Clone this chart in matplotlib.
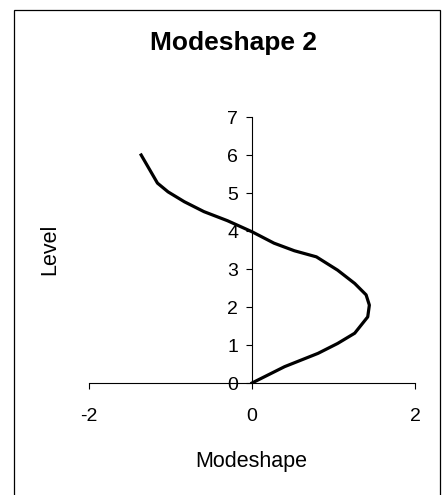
import matplotlib.pyplot as plt
from matplotlib.patches import Rectangle

# valores
modeshape = [0.0, 0.40, 0.81, 1.05, 1.26, 1.42, 1.44, 1.40, 1.26, 1.05, 0.79,
             0.52, 0.27, 0.0, -0.30, -0.59, -0.83, -1.03, -1.16, -1.36]
level = [0.0, 0.43, 0.78, 1.04, 1.31, 1.74, 2.05, 2.32, 2.62, 2.97, 3.32,
         3.48, 3.68, 3.98, 4.27, 4.51, 4.77, 5.03, 5.26, 6.0]
xticks = [-2, 0, 2]
yticks = [0, 1, 2, 3, 4, 5, 6, 7]

plt.rcParams['font.family'] = ['Liberation Sans', 'DejaVu Sans']
plt.rcParams['axes.unicode_minus'] = False

fig = plt.figure(figsize=(4.42, 4.95), dpi=100)
# marco del grafico
fig.patches.append(Rectangle((14 / 442, -0.01), (440 - 14) / 442, 1 - 10 / 495 + 0.01,
                             transform=fig.transFigure, fill=False,
                             edgecolor='black', linewidth=0.9))

ax = fig.add_axes([89 / 442, 112 / 495, 326 / 442, 266 / 495])
ax.plot(modeshape, level, color='black', linewidth=2.3)

ax.set_xlim(-2, 2)
ax.set_ylim(0, 7)
ax.set_xticks(xticks)
ax.set_yticks(yticks)

ax.spines['left'].set_position(('data', 0))
ax.spines['bottom'].set_position(('data', 0))
ax.spines['right'].set_visible(False)
ax.spines['top'].set_visible(False)
for s in ('left', 'bottom'):
    ax.spines[s].set_linewidth(0.8)

ax.tick_params(axis='both', direction='out', length=4, width=0.8,
               labelsize=14)
ax.tick_params(axis='y', pad=6)
ax.tick_params(axis='x', pad=14)

fig.text(233 / 442, 1 - 43 / 495, 'Modeshape 2', ha='center', va='center',
         fontsize=19, fontweight='bold')
fig.text(251 / 442, 1 - 461 / 495, 'Modeshape', ha='center', va='center', fontsize=15.5)
fig.text(50 / 442, 1 - 249 / 495, 'Level', ha='center', va='center',
         rotation=90, fontsize=15.5)

fig.savefig('out.png', dpi=100)
